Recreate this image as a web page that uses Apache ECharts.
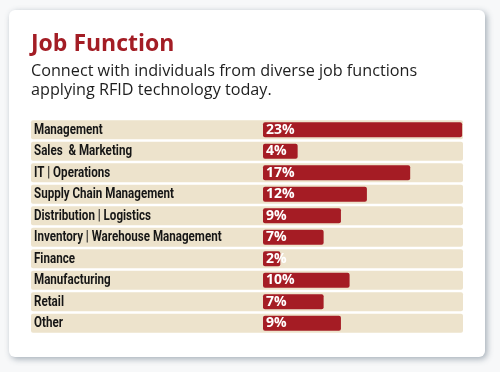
<!DOCTYPE html>
<html><head><meta charset="utf-8">
<script src="https://cdn.jsdelivr.net/npm/echarts@6/dist/echarts.min.js"></script>
<style>html,body{margin:0;padding:0;background:#f7f8f9}#c{width:500px;height:372px}</style>
</head><body><div id="c"></div>
<script>
var categories = ["Management","Sales  & Marketing","IT | Operations","Supply Chain Management","Distribution | Logistics","Inventory | Warehouse Management","Finance","Manufacturing","Retail","Other"];
var values = [23,4,17,12,9,7,2,10,7,9];
var titleText = "Job Function";
var subtitleText = "Connect with individuals from diverse job functions\napplying RFID technology today.";

var chart = echarts.init(document.getElementById('c'), null, {renderer:'canvas'});
chart.setOption({
  animation:false,
  backgroundColor:'#f7f8f9',
  graphic:[
    {type:'rect', z:-10, shape:{x:9,y:10,width:476,height:347,r:6},
     style:{fill:'#ffffff', shadowBlur:6, shadowColor:'rgba(60,80,100,0.45)', shadowOffsetX:2, shadowOffsetY:2}},
    {type:'text', left:31, top:33, style:{text:titleText, fill:'#a31d25', font:'bold 23px "Open Sans"'}},
    {type:'text', left:31, top:62, style:{text:subtitleText, fill:'#1e1e1e', font:'16.2px "Open Sans"', lineHeight:19}}
  ],
  grid:{left:31, right:37, top:119, height:215},
  xAxis:{type:'value', min:-26.8, max:23.1, show:false},
  yAxis:{type:'category', data:categories, inverse:true, show:false},
  series:[
    {type:'custom', z:1, silent:true,
     data:categories.map(function(c,i){return [0,i];}),
     encode:{x:0,y:1},
     renderItem:function(params, api){
       var cs = params.coordSys;
       var c = api.coord([0, api.value(1)]);
       return {type:'group', children:[
         {type:'rect', shape:{x:cs.x, y:c[1]-9.5, width:cs.width, height:19, r:2},
          style:{fill:'#ede3cc'}},
         {type:'text', x:cs.x+3, y:c[1]+0.5, scaleX:0.8,
          style:{text:categories[params.dataIndex], fill:'#161616', verticalAlign:'middle', align:'left',
                 font:'bold 14.5px Roboto'}}
       ]};
     }},
    {type:'bar', z:3, data:values, barWidth:15,
     itemStyle:{color:'#a51c24', borderRadius:2},
     label:{show:true, position:'insideLeft', distance:3, formatter:'{c}%', color:'#ffffff',
            fontWeight:'bold', fontSize:14, fontFamily:'"Open Sans"'}}
  ]
});
</script></body></html>
